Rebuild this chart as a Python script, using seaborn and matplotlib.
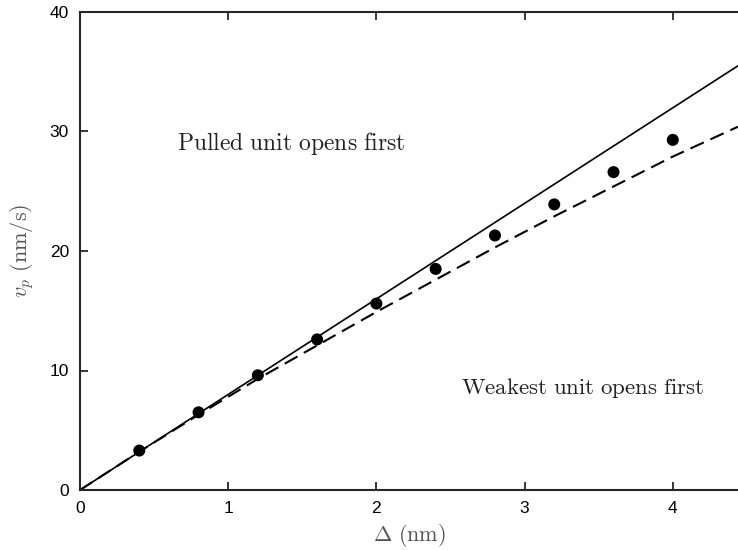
import matplotlib
matplotlib.use("Agg")
import matplotlib.pyplot as plt
import seaborn as sns
import pandas as pd

# data
delta_pts = [0.4, 0.8, 1.2, 1.6, 2.0, 2.4, 2.8, 3.2, 3.6, 4.0]
vp_pts = [3.3, 6.5, 9.6, 12.6, 15.6, 18.5, 21.3, 23.9, 26.6, 29.3]
delta_solid = [0.0, 4.44]
vp_solid = [0.0, 35.5]
delta_dash = [0.0, 0.4, 0.8, 1.2, 1.6, 2.0, 2.4, 2.8, 3.2, 3.6, 4.0, 4.44]
vp_dash = [0.0, 3.2, 6.3, 9.3, 12.1, 14.9, 17.6, 20.3, 22.9, 25.4, 27.9, 30.4]
xticks = [0, 1, 2, 3, 4]
yticks = [0, 10, 20, 30, 40]

sns.set_style("ticks")
plt.rcParams['font.family'] = ['Liberation Sans', 'DejaVu Sans']
plt.rcParams['mathtext.fontset'] = 'cm'

fig = plt.figure(figsize=(7.38, 5.5), dpi=100)
ax = fig.add_axes([80/738, 60/550, 658/738, 478/550])

sns.lineplot(x=delta_solid, y=vp_solid, ax=ax, color='black', lw=1.2)
sns.lineplot(x=delta_dash, y=vp_dash, ax=ax, color='black', lw=1.5,
             dashes=False, linestyle=(0, (7, 3.5)))
sns.scatterplot(x=delta_pts, y=vp_pts, ax=ax, color='black', s=75,
                edgecolor='none', zorder=5)

ax.set_xlim(0, 4.44)
ax.set_ylim(0, 40)
ax.set_xticks(xticks)
ax.set_yticks(yticks)
ax.tick_params(direction='in', length=6, width=1.3, labelsize=12.5,
               top=True, right=False, labelcolor='black', pad=8)
for s in ['left', 'bottom', 'top']:
    ax.spines[s].set_linewidth(1.5)
    ax.spines[s].set_visible(True)
ax.spines['right'].set_visible(False)

ax.set_xlabel(r'$\Delta\ \mathrm{(nm)}$', fontsize=16, color='#555555', labelpad=4)
ax.set_ylabel(r'$v_p\ \mathrm{(nm/s)}$', fontsize=16, color='#555555', labelpad=10)

ax.text(0.655, 29.0, r'$\mathrm{Pulled\ unit\ opens\ first}$', fontsize=17,
        color='#222222', va='center', ha='left')
ax.text(2.57, 8.5, r'$\mathrm{Weakest\ unit\ opens\ first}$', fontsize=16.5,
        color='#222222', va='center', ha='left')

fig.savefig('out.png', dpi=100)
